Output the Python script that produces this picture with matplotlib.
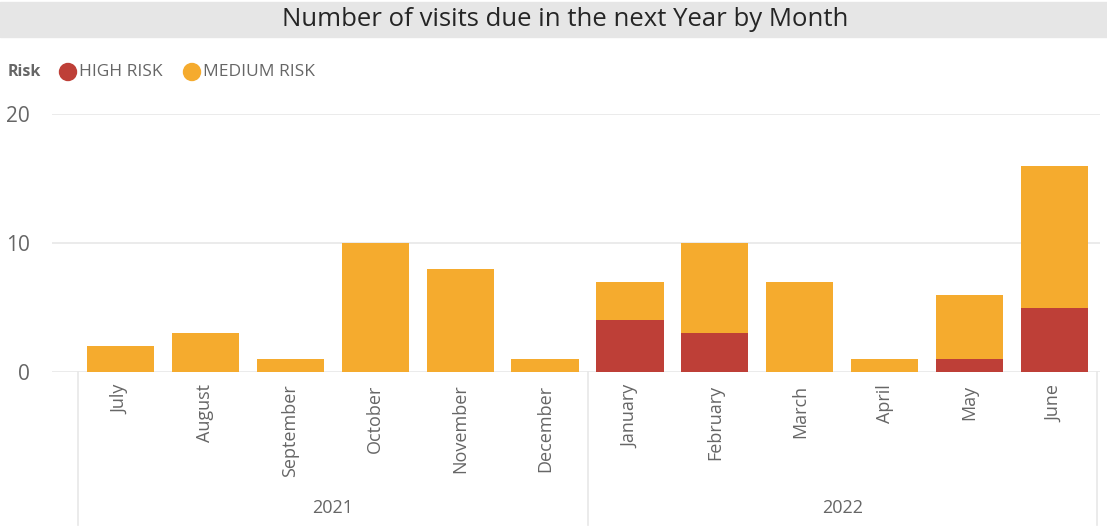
import matplotlib
matplotlib.use("Agg")
import matplotlib.pyplot as plt
from matplotlib.patches import Rectangle, Ellipse
from matplotlib.lines import Line2D

months = ["July", "August", "September", "October", "November", "December",
          "January", "February", "March", "April", "May", "June"]
years = ["2021", "2022"]
months_per_year = [6, 6]
high_risk = [0, 0, 0, 0, 0, 0, 4, 3, 0, 0, 1, 5]
medium_risk = [2, 3, 1, 10, 8, 1, 3, 7, 7, 1, 5, 11]
yticks = [0, 10, 20]

RED = "#BE3F37"
ORANGE = "#F5AB2E"
GRAY = "#666666"
FONT = ["Open Sans", "DejaVu Sans"]
plt.rcParams["font.family"] = FONT

W, H = 1107, 530
fig = plt.figure(figsize=(W / 100, H / 100), dpi=100)

def px(x0, y0, x1, y1):
    return [x0 / W, 1 - y1 / H, (x1 - x0) / W, (y1 - y0) / H]

# title band
fig.patches.append(Rectangle((0, 1 - 37 / H), 1, 35 / H, transform=fig.transFigure,
                             color="#E6E6E6", zorder=0))
fig.text(565 / W, 1 - 20 / H, "Number of visits due in the next Year by Month",
         ha="center", va="center", fontsize=18.5, color="#252525")

# legend
fig.text(8 / W, 1 - 72 / H, "Risk", ha="left", va="center", fontsize=11.5,
         color=GRAY, fontweight="bold")
for cx, col, lab in [(68, RED, "HIGH RISK"), (192, ORANGE, "MEDIUM RISK")]:
    fig.patches.append(Ellipse((cx / W, 1 - 72 / H), 17 / W, 17 / H,
                               transform=fig.transFigure, color=col))
    fig.text((cx + 11) / W, 1 - 72 / H, lab, ha="left", va="center",
             fontsize=12.5, color=GRAY)

# main axes
left_px, right_px = 52, 1100
x_lo_px, x_hi_px = 78, 1097
n = len(months)
unit = (x_hi_px - x_lo_px) / n
xlim_lo = -0.5 - (x_lo_px - left_px) / unit
xlim_hi = n - 0.5 + (right_px - x_hi_px) / unit

ax = fig.add_axes(px(left_px, 114, right_px, 372))
ax.set_xlim(xlim_lo, xlim_hi)
ax.set_ylim(0, 20)
x = list(range(n))
ax.bar(x, high_risk, width=0.79, color=RED, zorder=3)
ax.bar(x, medium_risk, bottom=high_risk, width=0.79, color=ORANGE, zorder=3)
for t in yticks:
    ax.axhline(t, color="#E8E8E8", lw=1.2, zorder=1)
for s in ax.spines.values():
    s.set_visible(False)
ax.set_yticks(yticks)
ax.set_yticklabels([str(t) for t in yticks], fontsize=15, color=GRAY)
ax.tick_params(axis="y", length=0, pad=16)
ax.set_xticks(x)
ax.set_xticklabels(months, rotation=90, fontsize=13, color=GRAY, va="top", ha="center")
ax.tick_params(axis="x", length=0, pad=9)

# year separators and labels
trans = ax.get_xaxis_transform()
start = 0
bounds = [-0.5]
for y, cnt in zip(years, months_per_year):
    mid = start + (cnt - 1) / 2
    ax.text(mid, -(508 - 372) / (372 - 114), y, transform=trans, ha="center",
            va="center", fontsize=13, color=GRAY)
    start += cnt
    bounds.append(start - 0.5)
for b in bounds:
    ax.add_line(Line2D([b, b], [0, -(525 - 372) / (372 - 114)], transform=trans,
                       color="#E8E8E8", lw=1.2, clip_on=False))

fig.savefig("out.png", dpi=100)
